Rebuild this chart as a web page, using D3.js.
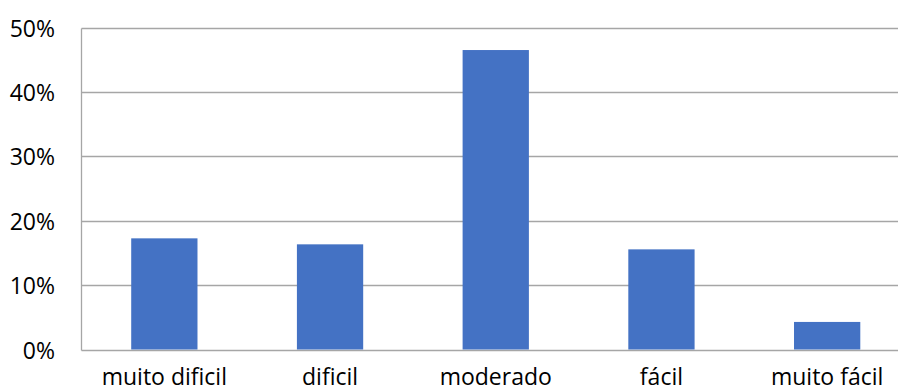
<!DOCTYPE html>
<html>
<head>
<meta charset="utf-8">
<script src="https://cdn.jsdelivr.net/npm/d3@7"></script>
<style>
html,body{margin:0;padding:0;background:#fff;overflow:hidden;}
svg{display:block;}
text{font-family:"Open Sans",sans-serif;fill:#000;}
</style>
</head>
<body>
<svg id="chart" width="899" height="392"></svg>
<script>
const categories = ["muito dificil", "dificil", "moderado", "fácil", "muito fácil"];
const values = [0.1726, 0.1633, 0.465, 0.1555, 0.0428];
const yTicks = [0, 0.1, 0.2, 0.3, 0.4, 0.5];

(function () {
const svg = d3.select("#chart");
const pLeft = 81.5, pRight = 910, pTop = 27.5, pBottom = 349.5;

const x = d3.scaleBand().domain(categories).range([pLeft, pRight]).paddingInner(0.6).paddingOuter(0.3);
const y = d3.scaleLinear().domain([0, 0.5]).range([pBottom, pTop]);

// gridlines
svg.append("g").selectAll("line").data(yTicks).join("line")
  .attr("x1", pLeft).attr("x2", 898)
  .attr("y1", d => Math.round(y(d)) + 0.5).attr("y2", d => Math.round(y(d)) + 0.5)
  .attr("stroke", "#a6a6a6").attr("stroke-width", 1.3);

// left axis line
svg.append("line")
  .attr("x1", pLeft).attr("x2", pLeft)
  .attr("y1", Math.round(y(0.5)) + 0.5).attr("y2", Math.round(y(0)) + 0.5)
  .attr("stroke", "#a6a6a6").attr("stroke-width", 1.3);

// bars
svg.append("g").selectAll("rect").data(values).join("rect")
  .attr("x", (d, i) => x(categories[i]))
  .attr("width", x.bandwidth())
  .attr("y", d => y(d))
  .attr("height", d => y(0) - y(d))
  .attr("fill", "#4472c4");

// y tick labels
svg.append("g").selectAll("text").data(yTicks).join("text")
  .attr("x", 55).attr("y", d => y(d))
  .attr("text-anchor", "end").attr("dominant-baseline", "central")
  .style("font-size", "23px")
  .text(d => d3.format(".0%")(d));

// x labels
svg.append("g").selectAll("text").data(categories).join("text")
  .attr("x", d => x(d) + x.bandwidth() / 2).attr("y", 385)
  .attr("text-anchor", "middle")
  .style("font-size", "23px")
  .text(d => d);
})();
</script>
</body>
</html>
